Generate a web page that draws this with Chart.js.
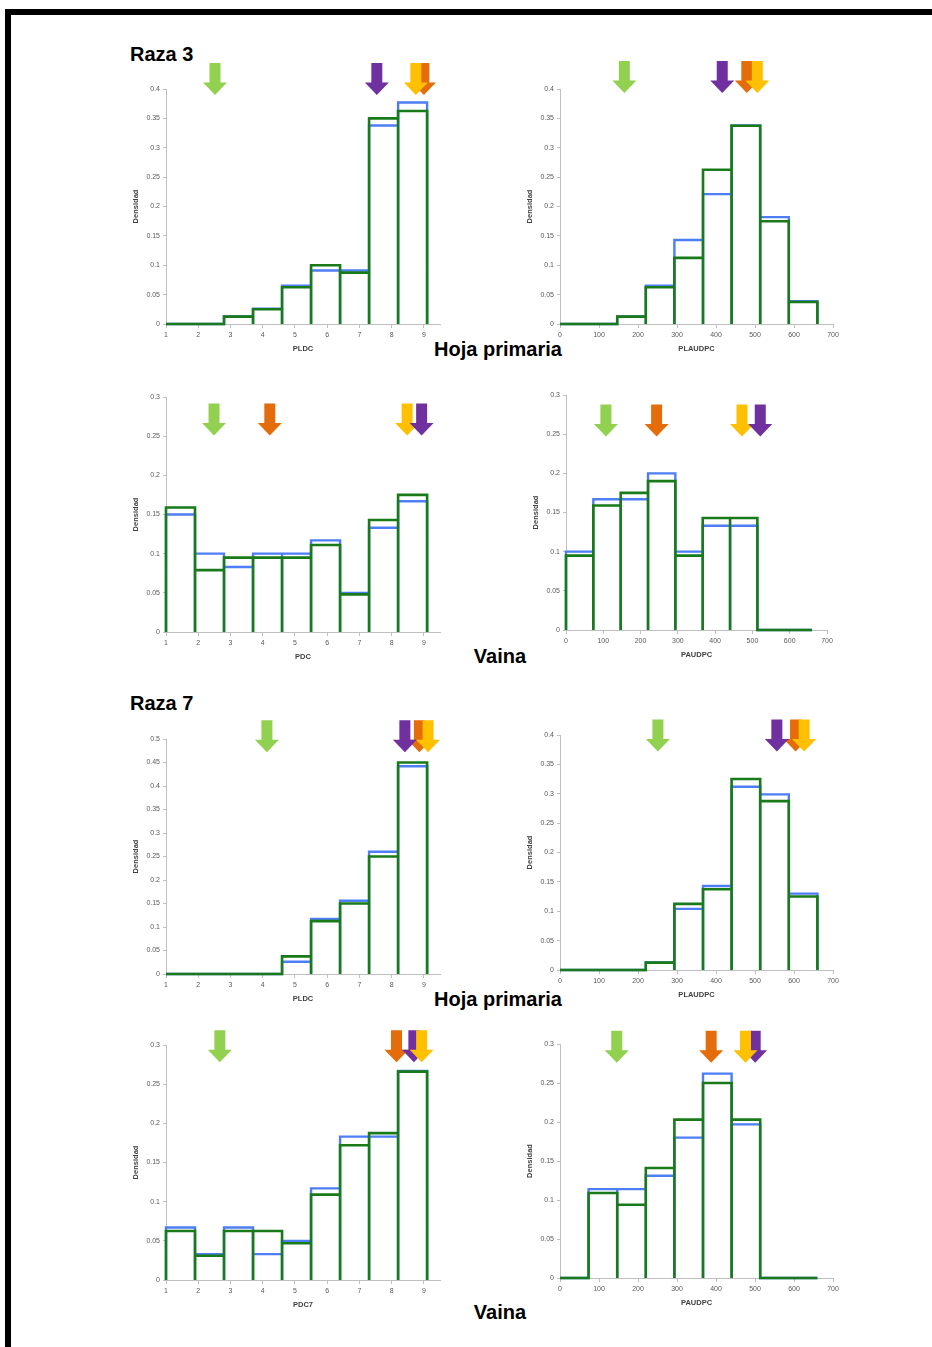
<!DOCTYPE html>
<html>
<head>
<meta charset="utf-8">
<script src="https://cdn.jsdelivr.net/npm/chart.js@4.4.1/dist/chart.umd.min.js"></script>
<style>
body { margin: 0; background: #fff; width: 932px; height: 1347px; position: relative; overflow: hidden; font-family: "Liberation Sans", Arial, sans-serif; }
.marco { position: absolute; left: 5px; top: 9px; right: -20px; bottom: -20px; border-top: 6px solid #000; border-left: 6px solid #000; }
canvas { position: absolute; }
.rot { position: absolute; font-weight: bold; font-size: 20px; line-height: 1; color: #000; white-space: nowrap; }
</style>
</head>
<body>
<div class="marco"></div>
<div class="rot" style="left:130px;top:54px;transform:translateY(-50%)">Raza 3</div>
<div class="rot" style="left:498px;top:349px;transform:translate(-50%,-50%)">Hoja primaria</div>
<div class="rot" style="left:500px;top:656px;transform:translate(-50%,-50%)">Vaina</div>
<div class="rot" style="left:130px;top:703px;transform:translateY(-50%)">Raza 7</div>
<div class="rot" style="left:498px;top:999px;transform:translate(-50%,-50%)">Hoja primaria</div>
<div class="rot" style="left:500px;top:1312px;transform:translate(-50%,-50%)">Vaina</div>

<script>
// limites de clases
const bordesEscala = [1, 1.9, 2.8, 3.7, 4.6, 5.5, 6.4, 7.3, 8.2, 9.1];
const bordesAudpc = [0, 73.3, 146.7, 220, 293.3, 366.7, 440, 513.3, 586.7, 660];

// Raza 3 - hoja primaria
const r3PldcAzul  = [0, 0, 0.013, 0.026, 0.065, 0.091, 0.091, 0.338, 0.377];
const r3PldcVerde = [0, 0, 0.0125, 0.025, 0.0625, 0.1, 0.0875, 0.35, 0.3625];
const r3PlaudpcAzul  = [0, 0, 0.013, 0.065, 0.143, 0.221, 0.338, 0.182, 0.039];
const r3PlaudpcVerde = [0, 0, 0.0125, 0.0625, 0.1125, 0.2625, 0.3375, 0.175, 0.0375];

// Raza 3 - vaina
const r3PdcAzul  = [0.15, 0.1, 0.083, 0.1, 0.1, 0.117, 0.05, 0.133, 0.167];
const r3PdcVerde = [0.159, 0.079, 0.095, 0.095, 0.095, 0.111, 0.048, 0.143, 0.175];
const r3PaudpcAzul  = [0.1, 0.167, 0.167, 0.2, 0.1, 0.133, 0.133, 0, 0];
const r3PaudpcVerde = [0.095, 0.159, 0.175, 0.19, 0.095, 0.143, 0.143, 0, 0];

// Raza 7 - hoja primaria
const r7PldcAzul  = [0, 0, 0, 0, 0.026, 0.117, 0.156, 0.26, 0.442];
const r7PldcVerde = [0, 0, 0, 0, 0.0375, 0.1125, 0.15, 0.25, 0.45];
const r7PlaudpcAzul  = [0, 0, 0, 0.013, 0.104, 0.143, 0.312, 0.299, 0.13];
const r7PlaudpcVerde = [0, 0, 0, 0.0125, 0.1125, 0.1375, 0.325, 0.2875, 0.125];

// Raza 7 - vaina
const r7Pdc7Azul  = [0.067, 0.033, 0.067, 0.033, 0.05, 0.117, 0.183, 0.183, 0.267];
const r7Pdc7Verde = [0.0625, 0.031, 0.0625, 0.0625, 0.047, 0.109, 0.172, 0.1875, 0.266];
const r7PaudpcAzul  = [0, 0.114, 0.114, 0.131, 0.18, 0.262, 0.197, 0, 0];
const r7PaudpcVerde = [0, 0.109, 0.094, 0.141, 0.203, 0.25, 0.203, 0, 0];

// flechas (posicion en el eje x), en orden de dibujo
const VERDE = "#92d050", MORADO = "#7030a0", NARANJA = "#e46c0a", AMARILLO = "#ffc000";
const r3PldcFlechas    = [[VERDE, 2.52], [MORADO, 7.54], [NARANJA, 9.0], [AMARILLO, 8.75]];
const r3PlaudpcFlechas = [[VERDE, 165], [MORADO, 416], [NARANJA, 479], [AMARILLO, 506]];
const r3PdcFlechas     = [[VERDE, 2.49], [NARANJA, 4.22], [AMARILLO, 8.48], [MORADO, 8.93]];
const r3PaudpcFlechas  = [[VERDE, 107], [NARANJA, 243], [AMARILLO, 472], [MORADO, 521]];
const r7PldcFlechas    = [[VERDE, 4.13], [NARANJA, 8.86], [MORADO, 8.41], [AMARILLO, 9.13]];
const r7PlaudpcFlechas = [[VERDE, 251], [NARANJA, 604], [MORADO, 556], [AMARILLO, 626]];
const r7Pdc7Flechas    = [[VERDE, 2.67], [NARANJA, 8.15], [MORADO, 8.69], [AMARILLO, 8.93]];
const r7PaudpcFlechas  = [[VERDE, 145.5], [NARANJA, 387.6], [MORADO, 500.5], [AMARILLO, 475.7]];

// paneles: caja = [izq, arriba, der, abajo] del area de grafico
const paneles = [
    { caja: [166, 89, 440, 324], bordes: bordesEscala, xMax: 9.5, yMax: 0.4, titulo: "PLDC", azul: r3PldcAzul, verde: r3PldcVerde, flechas: r3PldcFlechas, punta: 0.39 },
    { caja: [560, 89, 833, 324], bordes: bordesAudpc, xMax: 700, yMax: 0.4, titulo: "PLAUDPC", azul: r3PlaudpcAzul, verde: r3PlaudpcVerde, flechas: r3PlaudpcFlechas, punta: 0.393 },
    { caja: [166, 397, 440, 632], bordes: bordesEscala, xMax: 9.5, yMax: 0.3, titulo: "PDC", azul: r3PdcAzul, verde: r3PdcVerde, flechas: r3PdcFlechas, punta: 0.251 },
    { caja: [566, 395, 827, 630], bordes: bordesAudpc, xMax: 700, yMax: 0.3, titulo: "PAUDPC", azul: r3PaudpcAzul, verde: r3PaudpcVerde, flechas: r3PaudpcFlechas, punta: 0.247 },
    { caja: [166, 739, 440, 974], bordes: bordesEscala, xMax: 9.5, yMax: 0.5, titulo: "PLDC", azul: r7PldcAzul, verde: r7PldcVerde, flechas: r7PldcFlechas, punta: 0.472 },
    { caja: [560, 735, 833, 970], bordes: bordesAudpc, xMax: 700, yMax: 0.4, titulo: "PLAUDPC", azul: r7PlaudpcAzul, verde: r7PlaudpcVerde, flechas: r7PlaudpcFlechas, punta: 0.372 },
    { caja: [166, 1045, 440, 1280], bordes: bordesEscala, xMax: 9.5, yMax: 0.3, titulo: "PDC7", azul: r7Pdc7Azul, verde: r7Pdc7Verde, flechas: r7Pdc7Flechas, punta: 0.278 },
    { caja: [560, 1044, 833, 1278], bordes: bordesAudpc, xMax: 700, yMax: 0.3, titulo: "PAUDPC", azul: r7PaudpcAzul, verde: r7PaudpcVerde, flechas: r7PaudpcFlechas, punta: 0.276 }
];

// contorno del histograma
function contorno(bordes, alturas) {
    const pts = [];
    alturas.forEach((h, i) => {
        pts.push({ x: bordes[i], y: 0 }, { x: bordes[i], y: h }, { x: bordes[i + 1], y: h }, { x: bordes[i + 1], y: 0 });
    });
    return pts;
}

const pluginFlechas = {
    id: "flechas",
    afterDatasetsDraw(chart, args, opts) {
        const { ctx } = chart;
        const xs = chart.scales.x, ys = chart.scales.y;
        const tip = ys.getPixelForValue(opts.punta);
        opts.lista.forEach(([color, val]) => {
            const cx = xs.getPixelForValue(val);
            ctx.save();
            ctx.fillStyle = color;
            ctx.beginPath();
            ctx.moveTo(cx - 5.5, tip - 32);
            ctx.lineTo(cx + 5.5, tip - 32);
            ctx.lineTo(cx + 5.5, tip - 12.5);
            ctx.lineTo(cx + 12, tip - 12.5);
            ctx.lineTo(cx, tip);
            ctx.lineTo(cx - 12, tip - 12.5);
            ctx.lineTo(cx - 5.5, tip - 12.5);
            ctx.closePath();
            ctx.fill();
            ctx.restore();
        });
    }
};

const FUENTE = "'Liberation Sans', Arial, sans-serif";
const padL = 2, padT = 42, padR = 14, anchoY = 38, altoX = 29;

paneles.forEach(p => {
    const [l, t, r, b] = p.caja;
    const cv = document.createElement("canvas");
    cv.width = r - l + anchoY + padL + padR;
    cv.height = b - t + padT + altoX;
    cv.style.left = (l - anchoY - padL) + "px";
    cv.style.top = (t - padT) + "px";
    document.body.appendChild(cv);

    const xMin = p.bordes[0] === 0 ? 0 : 1;

    new Chart(cv, {
        type: "scatter",
        data: {
            datasets: [
                {
                    data: contorno(p.bordes, p.verde),
                    showLine: true,
                    borderColor: "#187a18",
                    borderWidth: 2.6,
                    pointRadius: 0,
                    fill: false,
                    clip: false,
                    order: 0
                },
                {
                    data: contorno(p.bordes, p.azul),
                    showLine: true,
                    borderColor: "#4d7ef5",
                    borderWidth: 2.4,
                    pointRadius: 0,
                    fill: false,
                    clip: false,
                    order: 1
                }
            ]
        },
        options: {
            responsive: false,
            animation: false,
            layout: { padding: { left: padL, top: padT, right: padR, bottom: 0 } },
            plugins: {
                legend: { display: false },
                tooltip: { enabled: false },
                flechas: { lista: p.flechas, punta: p.punta }
            },
            scales: {
                x: {
                    type: "linear",
                    min: xMin,
                    max: p.xMax,
                    border: { color: "#bfbfbf" },
                    grid: { drawOnChartArea: false, tickLength: 4, color: "#bfbfbf" },
                    ticks: {
                        stepSize: xMin === 0 ? 100 : 1,
                        includeBounds: false,
                        autoSkip: false,
                        maxRotation: 0,
                        padding: 3,
                        color: "#595959",
                        font: { size: 7, family: FUENTE }
                    },
                    title: { display: true, text: p.titulo, color: "#404040", padding: 0, font: { size: 7.5, weight: "bold", family: FUENTE } },
                    afterFit: s => { s.height = altoX; }
                },
                y: {
                    min: 0,
                    max: p.yMax,
                    border: { color: "#bfbfbf" },
                    grid: { drawOnChartArea: false, tickLength: 3, color: "#bfbfbf" },
                    ticks: {
                        stepSize: 0.05,
                        padding: 3,
                        color: "#595959",
                        font: { size: 7, family: FUENTE },
                        callback: v => String(+v.toFixed(2))
                    },
                    title: { display: true, text: "Densidad", color: "#404040", padding: { top: 3, bottom: 0 }, font: { size: 7.5, weight: "bold", family: FUENTE } },
                    afterFit: s => { s.width = anchoY; }
                }
            }
        },
        plugins: [pluginFlechas]
    });
});
</script>
</body>
</html>
